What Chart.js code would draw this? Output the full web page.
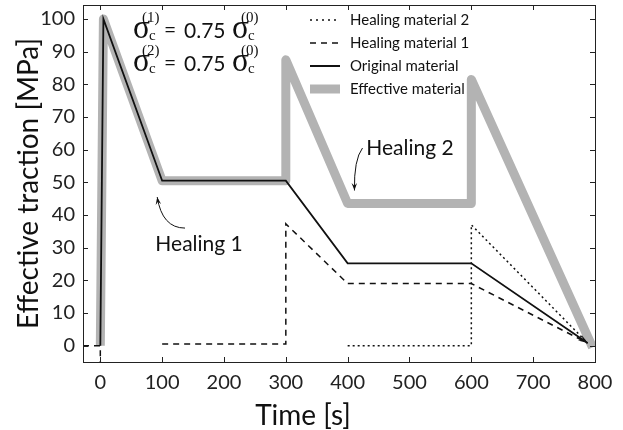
<!DOCTYPE html>
<html>
<head>
<meta charset="utf-8">
<script src="https://cdn.jsdelivr.net/npm/chart.js@4/dist/chart.umd.min.js"></script>
<style>
  html, body { margin: 0; padding: 0; background: #fff; }
  #wrap { width: 623px; height: 430px; position: relative; }
</style>
</head>
<body>
<div id="wrap"><canvas id="myChart" width="623" height="430"></canvas></div>
<script>
// values
const xTicks = [0, 100, 200, 300, 400, 500, 600, 700, 800];
const yTicks = [0, 10, 20, 30, 40, 50, 60, 70, 80, 90, 100];

const effTime = [0, 5, 100, 300, 300, 400, 600, 600, 796];
const effTraction = [0, 100, 50.5, 50.5, 87.5, 43.5, 43.5, 81.5, -0.5];

const origTime = [0, 5, 100, 300, 400, 600, 788];
const origTraction = [0, 100, 50.5, 50.5, 25.2, 25.2, 0.8];

const heal1Time = [-28, 0, 0, null, 100, 300, 300, 400, 600, 788];
const heal1Traction = [0, 0, -5, null, 0.5, 0.5, 37.3, 19, 19, 0.8];

const heal2Time = [400, 600, 600, 788];
const heal2Traction = [0, 0, 37, 0.8];

const legendLabels = ['Healing material 2', 'Healing material 1', 'Original material', 'Effective material'];

const toPoints = (xs, ys) => xs.map((x, i) => ({ x: x === null ? NaN : x, y: ys[i] === null ? NaN : ys[i] }));

const FONT = 'Lato, "Open Sans", sans-serif';

const noPad = (s) => {
  s.paddingTop = 0; s.paddingBottom = 0;
  s.paddingLeft = 0; s.paddingRight = 0;
};

const framePlugin = {
  id: 'frame',
  afterDraw(chart) {
    const ctx = chart.ctx;
    const a = chart.chartArea;
    const xs = chart.scales.x;
    const ys = chart.scales.y;
    ctx.save();
    ctx.strokeStyle = '#222';
    ctx.lineWidth = 1;
    ctx.strokeRect(a.left + 0.5, a.top + 0.5, a.right - a.left, a.bottom - a.top);
    ctx.beginPath();
    xTicks.forEach(v => {
      const px = Math.round(xs.getPixelForValue(v)) + 0.5;
      ctx.moveTo(px, a.bottom); ctx.lineTo(px, a.bottom - 5);
      ctx.moveTo(px, a.top); ctx.lineTo(px, a.top + 5);
    });
    yTicks.forEach(v => {
      const py = Math.round(ys.getPixelForValue(v)) + 0.5;
      ctx.moveTo(a.left, py); ctx.lineTo(a.left + 5, py);
      ctx.moveTo(a.right, py); ctx.lineTo(a.right - 5, py);
    });
    ctx.stroke();

    // axis titles
    ctx.fillStyle = '#111';
    ctx.font = '28px ' + FONT;
    ctx.textAlign = 'center';
    ctx.textBaseline = 'alphabetic';
    ctx.fillText('Time [s]', 303, 425);
    ctx.save();
    ctx.translate(38, (a.top + a.bottom) / 2);
    ctx.rotate(-Math.PI / 2);
    ctx.fillText('Effective traction [MPa]', 0, 0);
    ctx.restore();

    // legend
    const lx = 310, lw = 30;
    const rows = [20, 43, 66, 89];
    const styles = [
      { dash: [2, 4], w: 1.5, c: '#111' },
      { dash: [6, 5], w: 1.5, c: '#111' },
      { dash: [], w: 2, c: '#111' },
      { dash: [], w: 9, c: '#b3b3b3' }
    ];
    ctx.textAlign = 'left';
    ctx.textBaseline = 'middle';
    ctx.font = '15px ' + FONT;
    rows.forEach((ry, i) => {
      const s = styles[i];
      ctx.beginPath();
      ctx.setLineDash(s.dash);
      ctx.lineWidth = s.w;
      ctx.strokeStyle = s.c;
      ctx.moveTo(lx, ry); ctx.lineTo(lx + lw, ry);
      ctx.stroke();
      ctx.setLineDash([]);
      ctx.fillStyle = '#111';
      ctx.fillText(legendLabels[i], 350, ry);
    });

    // sigma expressions
    const sigma = (x, base, sup) => {
      ctx.textAlign = 'left';
      ctx.textBaseline = 'alphabetic';
      ctx.font = '33px "Liberation Serif", serif';
      const w = ctx.measureText('σ').width;
      ctx.save();
      ctx.translate(x, base);
      ctx.scale(17 / w, 1);
      ctx.fillText('σ', 0, 0);
      ctx.restore();
      ctx.font = '15px "Liberation Serif", serif';
      ctx.fillText('c', x + 16, base + 2);
      ctx.fillText(sup, x + 9, base - 16);
    };
    ctx.fillStyle = '#111';
    [[37.5, '(1)'], [71, '(2)']].forEach(([b, s]) => {
      sigma(133, b, s);
      ctx.font = '21px ' + FONT;
      ctx.textBaseline = 'alphabetic';
      ctx.fillText('=', 164, b - 1);
      ctx.fillText('0.75', 184, b);
      sigma(232, b, '(0)');
    });

    // healing annotations
    ctx.font = '21px ' + FONT;
    ctx.textAlign = 'left';
    ctx.textBaseline = 'alphabetic';
    ctx.fillText('Healing 1', xs.getPixelForValue(89), ys.getPixelForValue(29));
    ctx.fillText('Healing 2', xs.getPixelForValue(430), ys.getPixelForValue(58.5));

    const head = (x1, y1, ang, len) => {
      ctx.beginPath();
      ctx.moveTo(x1, y1);
      ctx.lineTo(x1 - len * Math.cos(ang - 0.35), y1 - len * Math.sin(ang - 0.35));
      ctx.lineTo(x1 - len * 0.6 * Math.cos(ang), y1 - len * 0.6 * Math.sin(ang));
      ctx.lineTo(x1 - len * Math.cos(ang + 0.35), y1 - len * Math.sin(ang + 0.35));
      ctx.closePath();
      ctx.fillStyle = '#111';
      ctx.fill();
    };
    const arrow = (x0, y0, cx, cy, x1, y1) => {
      ctx.beginPath();
      ctx.lineWidth = 1;
      ctx.strokeStyle = '#111';
      ctx.moveTo(x0, y0);
      ctx.quadraticCurveTo(cx, cy, x1, y1);
      ctx.stroke();
      head(x1, y1, Math.atan2(y1 - cy, x1 - cx), 8);
    };
    arrow(xs.getPixelForValue(137), ys.getPixelForValue(36),
          xs.getPixelForValue(100), ys.getPixelForValue(36),
          xs.getPixelForValue(92), ys.getPixelForValue(45.5));
    arrow(xs.getPixelForValue(424), ys.getPixelForValue(60.5),
          xs.getPixelForValue(410), ys.getPixelForValue(57),
          xs.getPixelForValue(411), ys.getPixelForValue(47.5));

    // arrowhead where the thin lines meet near the end
    const n = origTime.length;
    const ex = xs.getPixelForValue(origTime[n - 1]);
    const ey = ys.getPixelForValue(origTraction[n - 1]);
    const px = xs.getPixelForValue(origTime[n - 2]);
    const py = ys.getPixelForValue(origTraction[n - 2]);
    head(ex, ey, Math.atan2(ey - py, ex - px), 10);
    ctx.restore();
  }
};

const ctx = document.querySelector('#myChart');

const myChart = new Chart(ctx, {
  type: 'line',
  data: {
    datasets: [
      {
        label: legendLabels[1],
        data: toPoints(heal1Time, heal1Traction),
        borderColor: '#111',
        borderWidth: 1.5,
        borderDash: [6, 5],
        order: 1
      },
      {
        label: legendLabels[0],
        data: toPoints(heal2Time, heal2Traction),
        borderColor: '#111',
        borderWidth: 1.5,
        borderDash: [2, 3],
        order: 2
      },
      {
        label: legendLabels[2],
        data: toPoints(origTime, origTraction),
        borderColor: '#111',
        borderWidth: 1.8,
        order: 3
      },
      {
        label: legendLabels[3],
        data: toPoints(effTime, effTraction),
        borderColor: '#b3b3b3',
        borderWidth: 9,
        borderJoinStyle: 'round',
        order: 10
      }
    ]
  },
  options: {
    animation: false,
    responsive: false,
    devicePixelRatio: 1,
    spanGaps: false,
    elements: { point: { radius: 0 }, line: { tension: 0 } },
    layout: { padding: { top: 5, right: 28, left: 0, bottom: 0 } },
    plugins: { legend: { display: false }, tooltip: { enabled: false } },
    scales: {
      x: {
        type: 'linear',
        min: -28,
        max: 800,
        afterFit: (s) => { s.height = 68; noPad(s); },
        afterBuildTicks: (s) => { s.ticks = xTicks.map(v => ({ value: v })); },
        grid: { display: true, drawOnChartArea: false, drawTicks: false },
        border: { display: false },
        ticks: { padding: 9, color: '#222', font: { family: FONT, size: 20 }, maxRotation: 0 }
      },
      y: {
        type: 'linear',
        min: -5,
        max: 104.3,
        afterFit: (s) => { s.width = 83; noPad(s); },
        afterBuildTicks: (s) => { s.ticks = yTicks.map(v => ({ value: v })); },
        grid: { display: true, drawOnChartArea: false, drawTicks: false },
        border: { display: false },
        ticks: { padding: 8, color: '#222', font: { family: FONT, size: 20 } }
      }
    }
  },
  plugins: [framePlugin]
});
</script>
</body>
</html>
